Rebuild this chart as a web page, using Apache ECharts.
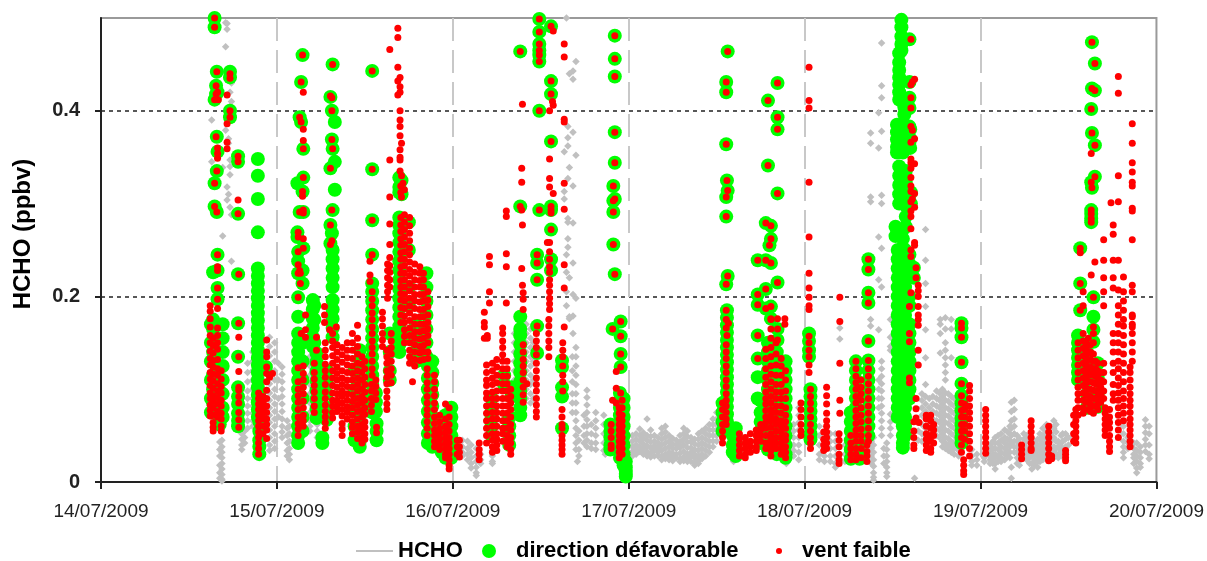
<!DOCTYPE html>
<html><head><meta charset="utf-8"><style>html,body{margin:0;background:#fff}#c{width:1207px;height:561px}</style>
<script src="https://cdn.jsdelivr.net/npm/echarts@6/dist/echarts.min.js"></script></head><body><div id="c"></div>
<script>
// Each row: [hours since 14/07/2009 00:00, values in ppbv x 1000 ...]
const dayLabels=['14/07/2009','15/07/2009','16/07/2009','17/07/2009','18/07/2009','19/07/2009','20/07/2009'];
const hcho14=[[15.1,390,345],[16.6,339,265],[17,495,469,379],[17.2,494,488,318,304],[17.4,370,365,310],[17.6,347,340,331,296,440,420,405],[17.8,238,288,430,410],
[16.5,45,38,32,26,20,14,8,3,1],[16.2,43,35,28,18,10,4],[19.2,65,58,52,46,40,35],[19.6,55,48,42],[20,128,118,108,98,90,82,74,66,58],[20.7,140,130,120,110,100,90,82,74,66,60],
[22,62,54,46,40],[23,156,146,136,126,116,106,96,88,80,72,64,56,48,40,34],[23.7,150,140,130,120,110,100,92,84,76,68,60,52,44,36]];
const hcho15=[[24.7,124,116,108,100,92,84,76,68,60,54,48],[24.2,128,110,90,70],[25.4,66,58,50,42,34,28],[25.7,60,52,44,36,30,24],[26.2,50,44],[26.5,65,55,45,40],
[28.5,155,145,135,125,115,105,95,85,75,66,60,55],[29.5,70,62,55,48],[33,80,60]];
const hcho16=[[49.3,45,38,32,28],[50,44,36,30,24],[50.5,40,32,26,20,15],[51.2,36,28,22,16,10,7],[51.8,30,24,20],[53.4,34,28,22,20],[56.4,160,150,140,130,120,110],
[58,170,160,150,140,130,120,110,100,90],[58.6,165,155,145,135,125,115,105,95,85],[59,150,130,110,90],[63.5,500,245,226,205,190],[63.7,383,371,362,327,284,280,262,253],[63.2,356,313,305],
[64.4,443,434,377,319,279,236,202,179,160],[64.8,453,352,198,145,135,125,115,105,95,85,75,66,58,50,42,35],[63.9,440,339,220,178,176],[64.3,135,120,108,95,85,75],[65.2,55,45,35,28],
[66.3,99,91,83,75,67,60,52,45,38],[65.9,72,60,50,42],[67.5,75,66,58,50,42,35],[66.9,62,52,42,36],[68.6,72,62,52,42,34],[68.8,30],[65,22]];
const hcho17=[[72.5,50,44,38,33,28],[73,52,46,40,35,30],[73.5,57,50,44,38,33],[74,53,47,41,36,30],[74.5,68,50,45,39,33,28],[75,56,49,43,37,31,27],[75.5,50,44,39,34,28],[76,48,42,37,32,28],
[76.5,58,52,46,40,34,28,24],[77,60,54,48,42,36,30,25],[77.5,50,44,38,32,28,24],[78,47,41,36,31,27,23],[78.5,45,40,36,30,26],[79,50,43,37,31,25,22],[79.5,58,52,46,40,33,27,23],[80,55,49,43,37,30,25,22],
[80.5,48,43,37,32,27,22],[81,46,41,35,30,26,21,18],[81.5,52,46,40,34,28,23,20],[82,55,48,42,36,30,25],[82.5,58,52,46,40,34,28],[83,62,56,50,44,38,32],[83.5,68,62,56,50,44,38],[84,75,68,62,56,50,44],[84.5,78,72,66,60,54],
[86.3,24,22],[93.5,20],[95.2,80,72,64,56,48,40,32,24],[94.5,62,55,48,40,34,28],[93.8,60,50,40,30,24]];
const hcho18=[[98,60,50,40,30,24],[100.2,52,44,36,28,20,16],[98.7,28,22],[99.5,52,44,36,28,22],[101.5,40,30,22],[100.8,154,166],[105.4,48,40,32,24,17,10,5,2],[105.1,44,36,28,20],[107.2,42,35,28,22,16,10,6],[106.8,36,28,20],
[106.5,473,427,414,378,309,300,252,210,130,122,114,106,98,90,82,74,66,58,50],[106.1,398,360,264,218,164,110,100,90,80],[105,376,365,307,302,175,168],[107.7,175,156,146,142,73,65,58,50],
[112.5,272,239,214,189,164,134,105,92,84,76,68,58,50],[115.2,177,165,150,142,134,126,118,110,96,88,80,72,64,56,48,42,36],[114.5,175,170,160,139],[116,175,165,134,92,84,76,68,60,52,44,38,32],
[111.5,55,45],[112,95,88,80,72,62,52,44],[113,90,80,70,62,52],[113.5,92,84,76,68,60,52],[114,98,90,82,74,66,58,50],[114.4,96,88,80,72,64,56,48],[114.8,100,92,84,76,68,60,52,44,38],[115.6,95,87,79,71,63,55,47,40,34],[116.4,90,82,74,66,58,50,42,36,30],[116.8,84,76,68,60,52,46,40],
[111,4],[117,40,34,28],[118.8,35,28,22,18],[119.5,30,24,18]];
const hcho19=[[120.5,26,22],[121.3,40,34,28,24,20],[121.7,44,36,30,25,20],[122,48,42,36,30,26,20,14],[122.4,50,42,35,28,22],[122.8,52,45,38,32,26,22],[123.3,56,48,42,36,30,24],[123.7,54,46,39,33,28],[124,60,52,45,38,32,26],[124.2,86,76,66,58,50,42,16,4],[124.6,88,78,68,60,52,44,38,32],
[125,50,44,38,32,26,20],[125.3,47,41,35,29,23,18],[125.9,52,46,40,34,28],[126.3,50,44,36,30,24],[126.7,46,38,32,26,20],[127,42,34,28,20,14],[127.4,44,37,31,24,18],[127.8,46,40,34,28,22,16],[128.1,52,46,40,33,27,22],[128.5,58,50,42,36,30,24],[128.8,56,48,40,32,26],[129,62,54,46,38],[129.6,60,52,44,36,30],[130,66,58,48,38,32,26],[130.3,62,54,44,36,30],[130.6,44,38,30,26],[131,50,42,34,28],[131.2,52,44,36],[131.6,52,46,38,32],[132,48,40],
[139.5,60,52,44,38,32,26],[140.1,48,42,36],[140.9,42,36,30,26,20],[141.3,42,34,28,22,15,10],[141.8,38,32,26,20,16],[142.5,67,60,53,46,40,33],[143,60,52,40,30,25]];

const dir14=[[15.5,500,490,412,322,297],[15.8,442,372,335,291],[15.7,427,418],[15.9,420,356,245,228,209,197],[17.6,442,436,400,393],[18.7,351,345,289,224,171,135,102,92,84,74,66,60],
[15.3,226,175,165,150,140,130,115,100,85],[15,170,150,130,110,90,75],[16.6,170,155,140,125,110,95,80,70],[16.2,70,62],
[21.4,348,330,305,269,230,222,214,206,198,190,182,174,166,158,150,142,134,126,118,110,102,94,86,78,70],[21.6,95,85,75,65,55,45,38,30],[22.5,124]];
const dir15=[[27.5,460,313],[27.3,431,388],[27.1,393,291],[27.6,359,328,291,252],[26.8,322,269,264],[26.9,248,238,225,199,178,160,150,140,130,120,110,100,90,80,70,60,50,42],[27.5,228,214,150,130,110,90,70,55],
[31.6,450,359,293,250,240,230,220,210,196,186,176,166,156],[31.3,415,338,277,257],[31.5,400,369,268],[31.9,388,345,315],[28.9,196,186,176,166,156,146],[29.4,139,129,119,109,99,89,79,69],[29.1,190,175,150],
[30.2,48,42],[30.8,120,107,95,80,67],[35.3,142,132,122,112,102,92,82,72,62,52,44,38],[34.6,120,100,80,60,45],
[37,443,337,282,245,214,205,195,185,175,165,155,145,135,125,115,105,95,85,75],[37.5,96,86,76],[37.6,63,55,45],[39.4,160,140,120,110],[40.7,328,318,312,285,277,268,258,248,238,228,218,208,198,188,178,168,158,148,140],
[41,325,310],[42,280,250,210,190,160],[43,170,160,150,140,130],[44.4,225,210,195,180,165,150,135],[44.6,125,112,100,88,76,64,52,42],[45.2,130,118,106,94,82,70,58,46,38],[46.5,38,32],[47,72,62,52,42,32,26]];
const dir16=[[47.8,80,70,60,50,40,32,26],[53.3,90,80,70,60,50],[55,115,105],[55.7,70,60,50,40],[56,102,92],[57.2,464,297,178,165,158,148,138,128,118,108,98,90,80,72],[59.8,499,485,472,465,460,453,400,293],[59.5,245,236,218,168,139],
[61.4,491,432,418,367,297,293,272,240,228],[62.9,131,124,102,92,58]];
const dir17=[[70.1,481,456,437,377,344,305,224],[69.9,319,303,291,256],[70.9,173,157,138,124],[69.8,165],[70.8,96,88,80,72,64,56,48,40,32,26],[71.3,90,80,70,60,50,40,30,24,18],[71.6,22,16,12,9,6],[69.5,62,55,48,40,35],
[85.5,464,314,222],[85.3,431,420,364,307,286,213],[85.4,325,185,177,169,161,153,145,137,129,121,113,105,97,89,81,73,65,60],[84.8,85,75,65,55],[86.6,58,50,42,34,28],[86.2,50,40,32],
[92.3,430,393,380,311,215,165,153],[91,411,341,150,140,130,120,110,100,90,80,70,60,50,40,35],[90.7,279,239,208,187],[91.4,276,262,236,189,176],[91.2,255],[89.6,239,202,191,158,133,113,90],[90,88,75,65,55,48,42],
[92.2,140,130,120,110,100,90,80,70,60,50,40,30],[93.4,130,120,110,100,90,80,70,60,50,40,30,26]];
const dir18=[[96.6,160,152,142,135],[96.8,100,92,84,76,68,60,52,46],[103,130,120,110,100,90,80,70,60,50,40,30],[102.3,75,65,55,45,35,25],[103.5,70,60,50,40,30,25],[104.7,240,229,204,193,152,131,120,110,100,90,80,70,60,50],
[109.2,498,490,480,472,465],[108.9,462,452,444,436,428,420,412,340,330,320,310,300],[109.6,412,404,396],[108.6,385,377,369,361,355],[109.4,385,375,365,355,272,262,252,70,60,50,42,37],[110.4,380,370,360],[109.8,335,322,310,298,286,275],[110.5,312,300],[108.4,275,265],
[108.7,250,240,230,220,210,200,190,180,170,160,150,140,130,120,110,100,90,80,70],[109.7,250,240,230,220,210,200,190,180,170,160,150,140,130,120,110,100,90,80,70,60,50],[110.3,477,431,414,403,383,366,245,235,200,190,170,160,150,140,130,120,110,100,90],[110.9,231,220],
[117.4,171,166,156,129,106,93,85,77,69,62,55,48,42]];
const dir19=[[135.2,474,424,376,317],[135.6,451,422,363,329],[135.1,402,323,293,289,284,280],[133.6,252,214,185],[133.3,158,150,142,134,126,118,110],[135.4,199,178,164,151],[134.5,140,125,110,95,80],[136,128,112,95,81]];

const vent14=[[15.5,500,490,412,322,297],[15.8,442,335,291],[15.7,427,418,372],[15.9,420,360,354,349],[16,412],[17.6,440,435,400,393],[17.2,417,386,366,359],[18.7,351,345,304,289],
[18.8,224,171,156,135,119,102,99,92,85,75,67,59],[14.9,190,184,176,167,158,150,141,133,126,118,111,104,96,90,83,77,71],[15.3,155,147,139,131,124,116,109,101,93,87,80,72,64,59,55],
[15.9,245,232,228,209,197,187,166,158,150,143,132,122,115,106,98,91,84,76,70],[16.4,120,111,103,96,88,82,74,68,60,55],[22.6,153,140,135,124,117,108,99,90,82,75,68,62,56,47],[23.4,117],[23,113],
[21.5,96,90,84,78,72,66,60,54,48,42,36,30],[22.1,92,86,80,74,68,60,52]];
const vent15=[[27.5,460,313,308],[27.3,431,388],[27.6,420,380,368,359,328,293,290,262,252],[27.1,393,291,228],[26.9,269,264,248,234,225,199],[27.2,225,214],[27.9,180,164,156],[27.3,160],
[26.9,123,108,100,93,86,78,70,63,57,50],[27.6,125,117,110,102,95,87,80,72,66,60],[29.1,128,118,111,104,97,90,82,75],[29.4,156,142],[30.5,189,180,172],[31.2,164],[32.1,167],
[31.6,450,359],[31.3,416,338,277,256],[31.5,414,400,369,293,260],[30.6,150,142,135,127,120,113,105,97,90,83,76,70,64,58],[31.6,160,152,145,136,128,120,112,104,96,88,82,75,69],
[32.2,148,140,132,124,117,110,102,95,88,82,76],[32.9,145,137,129,120,112,105,98,92,85,78,71,63,57,50],[33.6,150,142,134,126,118,110,103,95,88,81,75,68],[34.3,160,150,142,133,125,117,110,102,94,87,80,72,65,59,52],
[35,169,155,146,138,128,120,112,105,98,90,83,76,68,60,54,47],[35.6,135,127,118,110,100,92,85,77,70,62,55,48,42],[36,130,122,113,105,97,88,80,73,65,59,52,46],
[37,443,337,282,245,205,197,190,182,175,167,160,152,145,138,130,122,115],[36.7,238,223,216],[36.9,105,98,90,83,76],[37.5,110,103,96,89],[37.6,59,53],[38.4,183,176,168,160,153,146],[39,142,135,128,120,113,106,98,91,84,78],
[39.6,160,152,145,138,130,122,115,107],[39.1,235,228,220,212,205,198],[39.4,466,347,307,278,256,242,233,226,218,210],
[40.5,489,479,447,432,417],[40.8,436,426,420,400,390,383,373,358,350,347,335],[41,365,330,307],[41.2,322],[40.9,319,312],[41.4,315],
[40.9,285,277,270,262,255,247,240,232,225,217,210,203,196,188,180,172],[41.4,288,280,272,264,256,248,240,233,225,218,210,202,195,187,179,172,164,157,150],[42.1,285,276,268,260,252,245,237,229,222,214,206,198,190,182,174,166,158,150,142,135,128],
[42.8,235,226,218,210,202,195,187,178,170,162,155,148,140,132,125],[42.5,108],[43.5,232,225,217,210,202,194,186,178,170,162,154,146,139,131],[44,225,218,210,202,195,186,178,170,163,155,147,140,132],[44.6,205,196,189,180,172,165,158,150,140,133],
[44.5,122,115,107,100,92,85,78,72,65,58,50],[45.5,115,108,100,93,85,78,70,63,56,50,44,38],[46.2,72,65,58,52,46,40,35],[47,84,68,60,54,48,42,36,30,26],[47.5,80,70,62,55,48,42,36,30,24,18,14]];
const vent16=[[48.6,45,38,30],[48.9,45,38,32,27],[51.6,42,35,30,24],[52.3,183,172,167,155],[53,243,234,205,193],[52.7,158,155],[52.6,126,118,110,104,96,90,82,74,66,58,50,42],[53.4,128,120,112,105,97,90,83,75,68,60,52,45,38,32],
[54,132,124,115,107,98,90,82,75,68,60,52,46,40,34],[54.8,166,160,152,145,137,130,122,114,106,98,90,82,74,66,58,52,44],[55.3,292,286,246,232,193],[55.4,130,122,114,106,98,90,82,74,66,58,50,44,38],[55.9,100,92,85,78,70,62,56,48,42,35,30],
[57.2,464,297],[57.4,338,323,293,230],[57.5,277,212,407],[57.6,204,197,186],[57.6,148,140,132,125,118,110,102,94,86],[58.1,106],[59.8,499,485,472,465,460,453,400,293],[59.4,160,152,145,137,128,120,112,105,98,90,83,76,70],[59.5,245,236,218,168],
[61.4,491,432,418,367,297,293,290,272],[61.7,486,406,311],[61.6,410],[61.2,400,348,327,318,258,248,240,232,226,218,212,205,198,192,186],[61.1,175,168,160,152,145,135],[60.9,258],[63.2,472,458,391,388,322,294,234,209,167],[63,150,142,135,125,115,108,98],[62.9,78,70,62,58,50,45,40,35,30]];
const vent17=[[70.1,481,456,437,377,344,305,224],[69.9,319,303,291,256],[69.8,165],[70.9,173,157,138,124,96],[70.3,119,101,85],[69.8,88],[69.6,62,55,48,40,36],[70.7,80,74,68,62,56,50,44,38,32,26],[71.1,88,80,72,66,60,54,48,42,36,30],
[85.5,464,314,222],[85.3,431,420,364,307,286,213,185,175,166,148,140,133,125,118,110,103,95,88,82,75,68,62],[85.4,325,158],[85.6,171],[84.8,85,78,70,62,55,48,42],
[87.1,52,46,40,34,28],[87.9,48,42,36,30,26],[88.6,52,44,38,32],[89.4,56,50,44,38,34],[89.6,239,202,191,158,133],[90,62,56,50,44],
[90.7,279,239,208,187,143,133,122,113,105,97,90,84,77,70,64,58,50,42,36],[91,411,341],[91.2,255],[91.4,276,262,236,189,176,175,165,155,145,135,125,116,108,100,92,85,78,72,66,59,52,46,40,34,28],
[92.1,150,138,126,115,105,97,90,82,75,68,62,55,48,42,36],[92.3,430,393,380,311,215,176,165,153],[92.8,133,125,115,105,97,90,82,74,66,60,54,48,42,36,30],[93.4,120,110,98,90,80,72,65,58,50,45,38,32,26],[93.3,176,170]];
const vent18=[[95.5,85,78,70,62,55,50],[96.6,447,411,403,323,264,225,209,199,190,186,157,150,142,135,126,118],[96.8,100,92,85,78,70,62,55,48,42,36],[99,102,93,84,74,66,60,54,48,42,36],[98.6,54,46,40,34],[100.8,199,173,128,88,74],[100.7,52,45,38,30,24,20],
[102.3,50,42,36,30,24],[103,130,122,114,107,100,92,85,77,70,63,56,50,44,36,30,24],[103.7,110,102,95,88,80,72,65,57,50,44,36,26],[104.7,240,229,204,193,152,131,122,114,106,98,90,82,74,66,58,50,44],[104.5,40,33,28,22],
[110.5,477,428,414,403,383,366,348,344,338,328,319,313,302,292,286,273,250,243,204],[111,434,370,343,311,296,258,255],[110.7,431,379,305],[111.2,231,220],[111.5,212,206,200,189,180,175,169,142,126],[110.3,189,160,151,112,107],[111.2,90,79,69],[111.6,64],[110.9,65,55,48,40,36],
[112.6,72,68,60,52,46,40,34],[113.2,72,66,58,50,44,36,32],[113.6,62,56,50,42],[117.4,171,166,156,129,106,93,85,77,70,62,55,48,40,32],[117.8,84,78,70,62,55,46],[117.7,24,18,12,8],[118.5,104,98,90,82,75,68,60,52,44,36,28]];
const vent19=[[120.7,78,72,66,60,54,48,42,36,31],[125.6,40,35,30,25],[126.9,66,60,54,48,42,36,34],[129.3,60,54,48,42,36,30,24,23],[129.7,28,25],[131.6,34,30,26,23],[133,78,72,66,60,54,48,42],[132.7,72,62,52,44],
[135.2,474,424,376,317],[135.6,451,422,363,329,237],[135.1,402,354,323,293,289,284,280,223],[133.6,252,247,214,185],[133.3,150,142,134,126,118,110,102,95,88,80,72],[134,205,190,160,152,144,136,128,120,112,104,96,88,80,74],[134.35,150,142,134,126,118,110,102,94,86],[134.7,155,147,139,131,123,115,108,100,93,86,78],[135,148,140,132,124,116,108,100,92,84,76],
[135.4,199,167,160,150,138,130,122,115,107,99,90,82,74],[135.7,130,122,114,106,98,90,82],[136,128,120,112,105,98,92,84,78],[136.4,118,110,102,94,86],[136.8,261,239,220,205,190,128,118,108,98,90],[137,80,74,68,62,56,50],[137.6,78,70,64,58,50,44,38,33],
[138.1,277,267,239,220,209,160,150,140,128,118,105,95,88],[137.8,301],[138.8,437,419,330,302,239,207,190,180,170,160,150,140,130,122,112,104,96,88,80,72,64,56,48],[139.5,221,205,195,185,175,168,158,148,138,128,118,108,98,90,82,74,66],
[140.4,124,118,110,102,95,88,82,75,68,62,56,50,44,38],[140.7,386,365,344,334,323,319,295,292,261,212,205,180,178,170,167,160,150,140,130]];

const expand=rows=>rows.flatMap(([h,...vs])=>vs.map(v=>[h,v/1000]));
const hchoPoints=expand([...hcho14,...hcho15,...hcho16,...hcho17,...hcho18,...hcho19]);
const dirPoints=expand([...dir14,...dir15,...dir16,...dir17,...dir18,...dir19]);
const ventPoints=expand([...vent14,...vent15,...vent16,...vent17,...vent18,...vent19]);

const font='"Liberation Sans",Arial,sans-serif';
const legendText=s=>({fontFamily:font,fontSize:22,fontWeight:'bold',color:'#000',...s});
const chart=echarts.init(document.getElementById('c'),null,{renderer:'canvas'});
chart.setOption({
 animation:false,backgroundColor:'#fff',
 grid:{left:101,right:49,top:18,bottom:79,show:true,borderColor:'#9a9a9a',borderWidth:2,backgroundColor:'#fff'},
 xAxis:{type:'value',min:0,max:144,interval:24,
  axisLine:{onZero:false,lineStyle:{color:'#222',width:2}},axisTick:{length:7,lineStyle:{color:'#222',width:2}},
  axisLabel:{formatter:v=>dayLabels[v/24],fontFamily:font,fontSize:19,color:'#222',margin:20,hideOverlap:false,showMinLabel:true,showMaxLabel:true},
  splitLine:{show:true,showMinLine:false,showMaxLine:false,lineStyle:{color:'#c8c8c8',width:2,type:[23,9]}}},
 yAxis:{type:'value',min:0,max:0.5,interval:0.2,
  name:'HCHO (ppbv)',nameLocation:'middle',nameGap:66,nameRotate:90,
  nameTextStyle:{fontFamily:font,fontSize:24,fontWeight:'bold',color:'#000',padding:[0,0,0,32]},
  axisLine:{show:true,onZero:false,lineStyle:{color:'#222',width:2}},axisTick:{length:6,customValues:[0,0.2,0.4],lineStyle:{color:'#222',width:2}},
  axisLabel:{formatter:v=>(v===0?'0':v>0.45?'':v.toFixed(1)),fontFamily:font,fontSize:20,fontWeight:'bold',color:'#222',margin:21},
  splitLine:{show:true,showMinLine:false,showMaxLine:true,lineStyle:{color:'#222',width:1.5,type:[4,4]}}},
 legend:[
  {left:351,top:535,data:[{name:'HCHO',icon:'rect'}],itemWidth:37,itemHeight:2,itemGap:5,textStyle:legendText({}),selectedMode:false},
  {left:477,top:535,data:[{name:'direction défavorable',icon:'circle'}],itemWidth:44,itemHeight:14,textStyle:legendText({}),selectedMode:false},
  {left:771,top:535,data:[{name:'vent faible',icon:'circle'}],itemWidth:36,itemHeight:6,textStyle:legendText({}),selectedMode:false}],
 series:[
  {name:'HCHO',type:'scatter',symbol:'diamond',symbolSize:7.5,itemStyle:{color:'#c0c0c0',opacity:1},data:hchoPoints,z:2,clip:true},
  {name:'direction défavorable',type:'scatter',symbol:'circle',symbolSize:14,itemStyle:{color:'#00ff00',opacity:1},data:dirPoints,z:3,clip:false},
  {name:'vent faible',type:'scatter',symbol:'circle',symbolSize:7,itemStyle:{color:'#ff0000',opacity:1},data:ventPoints,z:4,clip:false}]
});
</script></body></html>
